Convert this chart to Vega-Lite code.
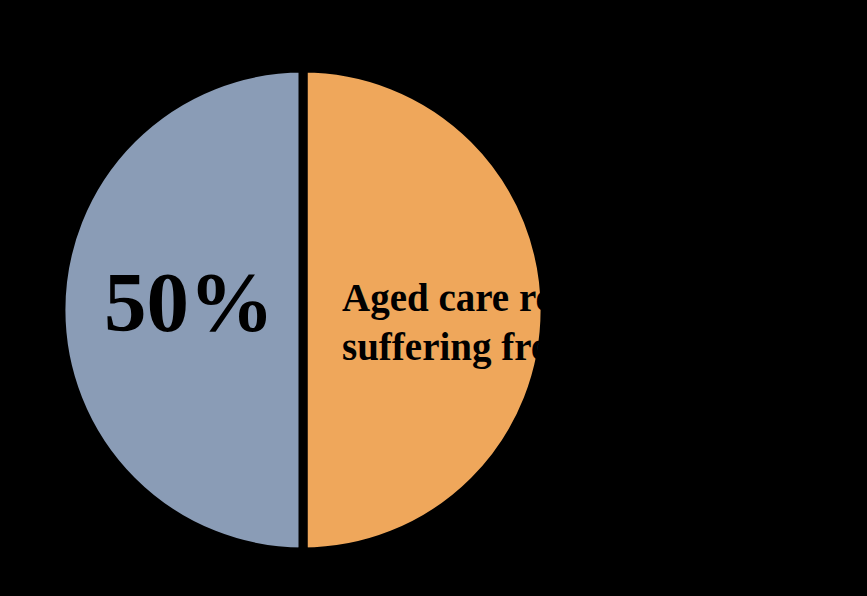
{
  "$schema": "https://vega.github.io/schema/vega-lite/v6.json",
  "width": 606,
  "height": 620,
  "autosize": {"type": "none"},
  "padding": {"left": 0, "top": 0, "right": 261, "bottom": 0},
  "background": "#000000",
  "view": {"stroke": null},
  "data": {
    "values": [
      {"category": "Aged care residents suffering from depression", "share": 50, "order": 1, "pct_label": "", "desc_label": "Aged care residents\nsuffering from depression"},
      {"category": "Other", "share": 50, "order": 2, "pct_label": "50%", "desc_label": ""}
    ]
  },
  "encoding": {
    "theta": {"field": "share", "type": "quantitative", "stack": true},
    "order": {"field": "order", "type": "quantitative"}
  },
  "layer": [
    {
      "mark": {"type": "arc", "outerRadius": 242, "stroke": "#000000", "strokeWidth": 9},
      "encoding": {
        "color": {
          "field": "category",
          "type": "nominal",
          "scale": {"domain": ["Aged care residents suffering from depression", "Other"], "range": ["#EFA75B", "#8A9CB6"]},
          "legend": null
        }
      }
    },
    {
      "mark": {"type": "text", "radius": 114, "font": "Liberation Serif", "fontWeight": "bold", "fontSize": 85, "color": "#000000", "align": "center", "baseline": "middle", "dy": -5},
      "encoding": {"text": {"field": "pct_label"}}
    },
    {
      "mark": {"type": "text", "radius": 39, "font": "Liberation Serif", "fontWeight": "bold", "fontSize": 39, "lineHeight": 49, "lineBreak": "\n", "color": "#000000", "align": "left", "baseline": "middle", "dy": -11},
      "encoding": {"text": {"field": "desc_label"}}
    }
  ]
}
